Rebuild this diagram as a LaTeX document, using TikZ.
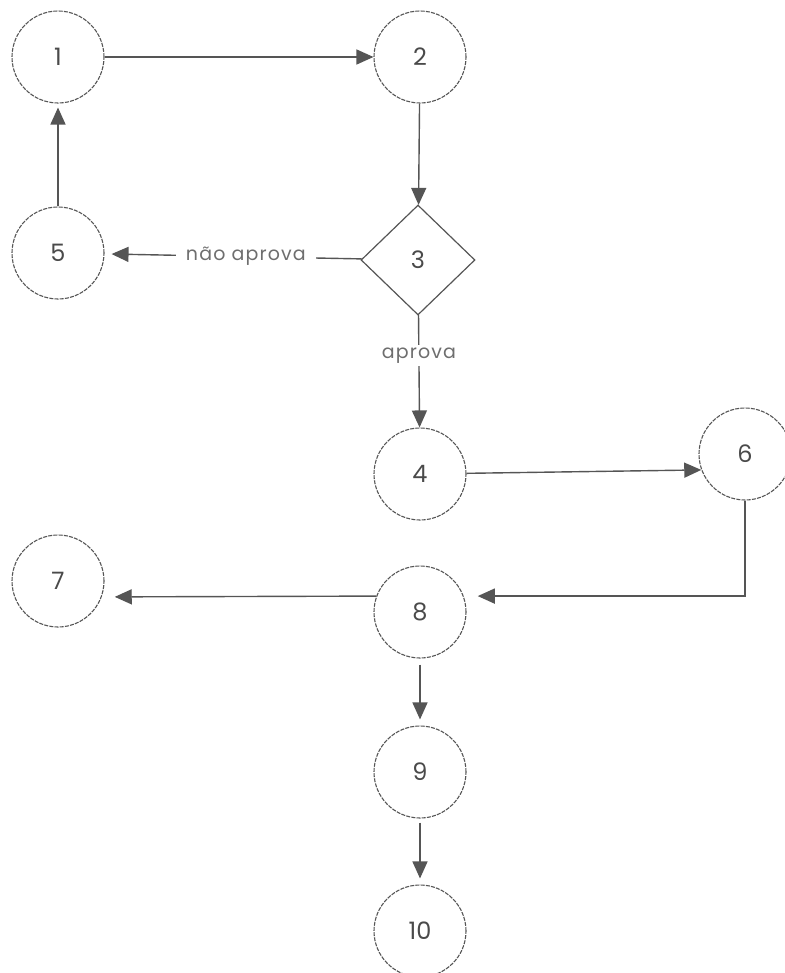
\documentclass[tikz,border=0pt]{standalone}
\usepackage{fontspec}
\setmainfont{Poppins}
\usetikzlibrary{shapes.geometric,arrows.meta}
\definecolor{ink}{HTML}{555555}
\definecolor{txt}{HTML}{4A4A4A}
\tikzset{
  circ/.style={circle, draw=ink, line width=1.1pt, dash pattern=on 4pt off 1.2pt, minimum size=92pt, inner sep=0pt, font=\fontsize{24}{26}\selectfont, text=txt},
  dia/.style={diamond, draw=ink, line width=1.2pt, minimum width=114pt, minimum height=110pt, inner sep=0pt, font=\fontsize{24}{26}\selectfont, text=txt},
  conn/.style={draw=ink, line width=1.4pt, -{Triangle[length=17pt,width=15pt]}},
  lbl/.style={fill=white, inner xsep=10pt, inner ysep=3pt, font=\fontsize{19}{21}\selectfont\addfontfeature{LetterSpace=6}, text=txt!80}
}
\begin{document}
\begin{tikzpicture}[x=1pt,y=-1pt]
\useasboundingbox (0,0) rectangle (784,973);
\node[circ] (n1) at (58,57) {1};
\node[circ] (n2) at (420,57) {2};
\node[circ] (n5) at (58,253) {5};
\node[dia]  (n3) at (418,260) {3};
\node[circ] (n4) at (420,474) {4};
\node[circ] (n6) at (745,454) {6};
\node[circ] (n7) at (58,581) {7};
\node[circ] (n8) at (420,612) {8};
\node[circ] (n9) at (420,772) {9};
\node[circ] (n10) at (420,931) {10};

\draw[conn] (n1) -- (n2);
\draw[conn] (n2) -- (n3);
\draw[conn, shorten >=7pt] (n3) -- node[lbl, pos=0.45] {não aprova} (n5);
\draw[conn, shorten >=4pt] (n5) -- (n1);
\draw[conn] (n3) -- node[lbl, inner xsep=3pt, pos=0.36] {aprova} (n4);
\draw[conn] (n4) -- (n6.200);
\draw[conn, shorten >=14pt] (n6.south) |- (n8.20);
\draw[conn, shorten >=13pt] (n8.160) -- (n7.-20);
\draw[conn, shorten <=6pt, shorten >=6pt] (n8) -- (n9);
\draw[conn, shorten <=4pt, shorten >=6pt] (n9) -- (n10);
\end{tikzpicture}
\end{document}
